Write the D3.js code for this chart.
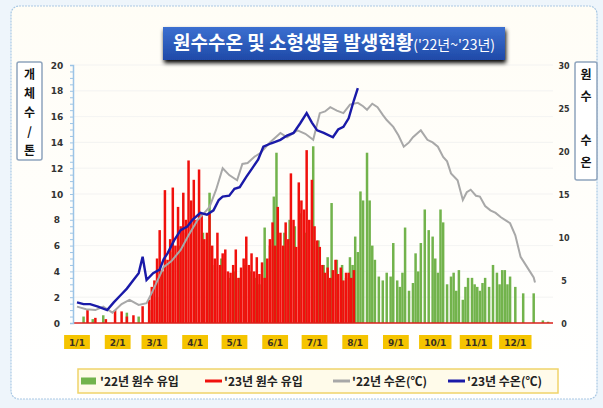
<!DOCTYPE html>
<html><head><meta charset="utf-8">
<script src="https://cdn.jsdelivr.net/npm/d3@7"></script>
<style>html,body{margin:0;padding:0;background:#eef5fb;}svg{display:block;}</style>
</head><body>
<svg id="c" width="603" height="408"></svg>
<script>
// ---- data ----
const monthLabels = ["1/1","2/1","3/1","4/1","5/1","6/1","7/1","8/1","9/1","10/1","11/1","12/1"];
const monthStartDays = [0,31,59,90,120,151,181,212,243,273,304,334];
const leftTicks = [0,2,4,6,8,10,12,14,16,18,20];
const rightTicks = [0,5,10,15,20,25,30];
const seriesNames = ["'22년 원수 유입","'23년 원수 유입","'22년 수온(℃)","'23년 수온(℃)"];
// [day of year, count]
const inflow22 = [[5,0.5],[12,0.3],[20,0.6],[38,0.8],[47,0.5],[55,1.0],[61,2.0],[65,4.0],[71,5.5],[78,6.0],[83,7.0],[90,7.5],[96,7.0],[101,10.1],[105,4.5],[110,5.0],[116,3.5],[120,4.0],[124,3.5],[128,4.5],[132,4.0],[136,3.5],[139,3.0],[143,7.4],[147,6.0],[150,9.8],[152,13.2],[158,7.0],[162,8.0],[166,7.5],[170,8.5],[174,7.0],[180,13.7],[184,6.4],[188,4.5],[191,5.1],[194,9.3],[198,4.9],[202,4.5],[205,3.5],[208,5.1],[210,4.5],[212,6.7],[214,5.5],[216,10.2],[218,9.5],[221,13.2],[223,9.5],[225,6.0],[227,4.9],[230,3.6],[233,3.3],[236,3.9],[239,3.6],[241,6.2],[244,3.3],[246,2.8],[248,3.9],[250,7.4],[253,2.5],[256,3.1],[258,5.4],[260,4.0],[262,6.2],[265,8.8],[268,7.2],[271,6.7],[273,5.0],[275,3.9],[277,8.8],[279,7.8],[282,3.0],[285,3.6],[287,3.9],[289,2.5],[291,4.1],[294,1.8],[296,2.8],[298,3.5],[301,3.5],[303,3.0],[305,2.8],[307,2.5],[309,3.1],[311,3.5],[314,2.8],[317,4.5],[320,3.9],[322,3.0],[324,4.1],[326,4.1],[328,3.0],[330,3.6],[334,2.8],[340,2.3],[348,2.3],[355,0.2],[359,0.1]];
const inflow23 = [[8,1.0],[14,0.4],[22,0.3],[29,1.0],[34,0.9],[38,0.5],[43,0.6],[50,1.3],[55,1.8],[57,2.8],[59,3.3],[61,5.0],[63,7.2],[65,4.0],[67,10.3],[69,4.9],[71,6.5],[73,10.5],[75,6.0],[77,9.0],[79,7.5],[81,10.1],[83,8.0],[85,12.6],[87,9.5],[89,11.1],[91,8.0],[93,11.9],[95,8.5],[97,6.5],[99,7.0],[101,8.5],[103,6.0],[105,5.0],[107,7.0],[109,4.5],[111,5.4],[113,5.7],[115,4.0],[117,3.9],[119,4.5],[121,5.7],[123,3.5],[125,4.3],[127,5.0],[129,6.7],[131,4.5],[133,5.4],[135,4.0],[137,5.1],[139,3.8],[141,4.7],[143,3.5],[145,5.0],[147,6.5],[149,7.8],[151,6.0],[153,9.0],[155,7.0],[157,6.0],[159,7.8],[161,6.5],[163,11.6],[165,8.0],[167,5.9],[169,10.9],[171,9.5],[173,8.8],[175,13.4],[177,8.0],[179,11.1],[181,7.5],[183,6.4],[185,5.9],[187,4.5],[189,3.9],[191,4.3],[193,3.5],[195,4.1],[197,4.9],[199,3.8],[201,4.3],[203,3.3],[205,3.9],[207,3.9],[209,3.5],[211,4.1]];
// [day of year, water temp °C]
const temp22 = [[0,1.9],[7,1.6],[14,1.5],[20,1.9],[27,1.2],[34,2.2],[40,2.7],[47,2.1],[53,2.3],[57,3.5],[60,4.5],[66,6.5],[72,7.2],[79,8.5],[85,10.2],[92,12.0],[97,12.8],[101,13.5],[106,15.5],[111,18.0],[116,17.2],[122,16.6],[126,18.5],[130,18.6],[135,19.3],[140,19.8],[147,21.0],[155,22.1],[160,21.6],[168,22.4],[174,22.0],[180,21.3],[185,24.4],[189,24.6],[193,25.1],[198,24.7],[203,24.4],[208,25.4],[214,25.6],[218,25.2],[221,24.8],[225,25.5],[229,25.1],[233,24.2],[236,23.6],[241,22.8],[245,21.8],[249,20.5],[253,21.0],[256,21.6],[262,22.4],[267,21.3],[271,21.0],[275,20.5],[279,19.3],[282,18.8],[285,17.4],[290,16.6],[294,14.3],[297,15.2],[300,15.5],[304,14.8],[307,14.7],[311,13.6],[315,13.1],[319,12.8],[323,12.3],[327,11.9],[330,11.6],[334,10.2],[338,7.7],[343,6.5],[348,5.3],[349,4.7]];
const temp23 = [[0,2.4],[5,2.2],[10,2.2],[16,1.9],[23,1.5],[28,2.4],[33,3.2],[38,4.0],[43,5.0],[47,5.8],[50,7.7],[53,5.0],[58,5.8],[63,6.2],[66,7.4],[69,8.1],[74,9.6],[79,10.8],[84,11.2],[88,12.0],[94,12.8],[99,12.6],[104,13.1],[108,14.3],[111,14.7],[116,14.8],[120,15.6],[124,15.8],[129,17.0],[134,18.1],[138,19.0],[142,20.5],[148,20.9],[155,21.3],[160,21.8],[165,22.1],[170,23.2],[175,24.4],[179,23.3],[183,22.4],[188,22.1],[195,21.6],[199,22.5],[203,22.8],[207,23.8],[211,25.9],[214,27.3]];

// ---- layout ----
const svg = d3.select("#c");
const x = d3.scaleLinear().domain([0,365]).range([77,556]);
const y = d3.scaleLinear().domain([0,20]).range([323,65]);
const y2 = d3.scaleLinear().domain([0,30]).range([323,65]);
const KR = "'Noto Sans CJK KR','Noto Sans',sans-serif";

const defs = svg.append("defs");
const tg = defs.append("linearGradient").attr("id","tg").attr("x1",0).attr("y1",0).attr("x2",0).attr("y2",1);
tg.append("stop").attr("offset","0%").attr("stop-color","#3b6fd0");
tg.append("stop").attr("offset","100%").attr("stop-color","#1f4aa8");
const bg = defs.append("linearGradient").attr("id","bg").attr("x1",0).attr("y1",0).attr("x2",0).attr("y2",1);
bg.append("stop").attr("offset","0%").attr("stop-color","#fffdf6");
bg.append("stop").attr("offset","100%").attr("stop-color","#ffffff");
const blur = defs.append("filter").attr("id","sh").attr("x","-10%").attr("y","-20%").attr("width","120%").attr("height","160%");
blur.append("feGaussianBlur").attr("in","SourceAlpha").attr("stdDeviation",2);
blur.append("feOffset").attr("dx",1).attr("dy",3).attr("result","o");
const fm = blur.append("feMerge"); fm.append("feMergeNode").attr("in","o"); fm.append("feMergeNode").attr("in","SourceGraphic");

// frame
svg.append("rect").attr("x",11).attr("y",6).attr("width",586).attr("height",393).attr("rx",8)
  .attr("fill","url(#bg)").attr("stroke","#a9c8e4").attr("stroke-width",1.2).attr("stroke-dasharray","2,1");

// gridlines
svg.append("g").selectAll("line").data(leftTicks.slice(1)).join("line")
  .attr("x1",74).attr("x2",553).attr("y1",d=>y(d)).attr("y2",d=>y(d))
  .attr("stroke","#f0f0f0").attr("stroke-width",0.8);

// bars
const bw = 2.5;
svg.append("g").selectAll("rect").data(inflow22).join("rect")
  .attr("x",d=>x(d[0])-bw/2).attr("width",bw)
  .attr("y",d=>y(d[1])).attr("height",d=>y(0)-y(d[1]))
  .attr("fill","#72b34c");
svg.append("g").selectAll("rect").data(inflow23).join("rect")
  .attr("x",d=>x(d[0])-bw/2).attr("width",bw)
  .attr("y",d=>y(d[1])).attr("height",d=>y(0)-y(d[1]))
  .attr("fill","#f0100c");

// lines
const line = d3.line().x(d=>x(d[0])).y(d=>y2(d[1]));
svg.append("path").attr("d",line(temp22)).attr("fill","none").attr("stroke","#a8a8a8").attr("stroke-width",2);
svg.append("path").attr("d",line(temp23)).attr("fill","none").attr("stroke","#1a1aa8").attr("stroke-width",2.4);

// baseline
svg.append("line").attr("x1",73).attr("x2",553).attr("y1",y(0)).attr("y2",y(0)).attr("stroke","#d8201a").attr("stroke-width",1.5);

// left axis
const la = svg.append("g").attr("transform","translate(73,0)")
  .call(d3.axisLeft(y).tickValues(d3.range(0,20.01,0.5)).tickSize(3).tickFormat(""));
la.selectAll("line,path").attr("stroke","#9cc4e6");
la.select(".domain").attr("stroke-width",1.5);
svg.append("g").selectAll("text").data(leftTicks).join("text")
  .attr("x",57).attr("y",d=>y(d)+3.5).attr("text-anchor","middle")
  .attr("font-family","'DejaVu Sans',sans-serif").attr("font-weight","bold").attr("font-size",9).attr("fill","#333")
  .text(d=>d);
// right axis labels
svg.append("g").selectAll("text").data(rightTicks).join("text")
  .attr("x",564).attr("y",d=>y2(d)+3.5).attr("text-anchor","middle")
  .attr("font-family","'DejaVu Sans',sans-serif").attr("font-weight","bold").attr("font-size",8).attr("fill","#333")
  .text(d=>d);

// x labels
const xl = svg.append("g").selectAll("g").data(monthLabels).join("g")
  .attr("transform",(d,i)=>`translate(${x(monthStartDays[i])},342)`);
xl.append("rect").attr("x",d=>-(d.length*3.3+3)).attr("y",-7).attr("width",d=>d.length*6.6+6).attr("height",14).attr("fill","#f5c400");
xl.append("text").attr("text-anchor","middle").attr("y",3.5)
  .attr("font-family","'DejaVu Sans',sans-serif").attr("font-weight","bold").attr("font-size",9).attr("fill","#3a3020")
  .text(d=>d);

// axis title boxes
function vbox(x0,y0,w,h,chars,gap){
  svg.append("rect").attr("x",x0).attr("y",y0).attr("width",w).attr("height",h).attr("rx",2)
    .attr("fill","#fff").attr("stroke","#8fa4bd").attr("stroke-width",1.5);
  svg.append("g").selectAll("text").data(chars).join("text")
    .attr("x",x0+w/2).attr("y",(d,i)=>y0+17+i*gap).attr("text-anchor","middle")
    .attr("font-family",KR).attr("font-weight","bold").attr("font-size",12).attr("fill","#111")
    .text(d=>d);
}
vbox(17,62,25,98,["개","체","수","/","톤"],19);
vbox(575,62,22,118,["원","수","","수","온"],22);

// title
svg.append("rect").attr("x",163).attr("y",27).attr("width",342).attr("height",33).attr("fill","url(#tg)").attr("filter","url(#sh)");
const tt = svg.append("text").attr("x",334).attr("y",50).attr("text-anchor","middle")
  .attr("font-family",KR).attr("fill","#fff");
tt.append("tspan").attr("font-size",19).attr("font-weight","bold").text("원수수온 및 소형생물 발생현황");
tt.append("tspan").attr("font-size",14).text("('22년~'23년)");

// legend
svg.append("rect").attr("x",78).attr("y",369).attr("width",480).attr("height",24).attr("fill","#fffbea").attr("stroke","#f0d36a").attr("stroke-width",1.5);
const lg = [{n:seriesNames[0],c:"#72b34c",t:"bar",x:81},{n:seriesNames[1],c:"#f0100c",t:"line",x:205},{n:seriesNames[2],c:"#a8a8a8",t:"line",x:333},{n:seriesNames[3],c:"#1a1aa8",t:"line",x:448}];
const lgi = svg.append("g").selectAll("g").data(lg).join("g").attr("transform",d=>`translate(${d.x},381)`);
lgi.filter(d=>d.t==="bar").append("rect").attr("x",0).attr("y",-3.5).attr("width",15).attr("height",7).attr("fill",d=>d.c);
lgi.filter(d=>d.t==="line").append("line").attr("x1",0).attr("x2",17).attr("stroke",d=>d.c).attr("stroke-width",3);
lgi.append("text").attr("x",19).attr("y",4.5).attr("font-family",KR).attr("font-weight","bold").attr("font-size",12).attr("fill","#222").text(d=>d.n);
</script>
</body></html>
